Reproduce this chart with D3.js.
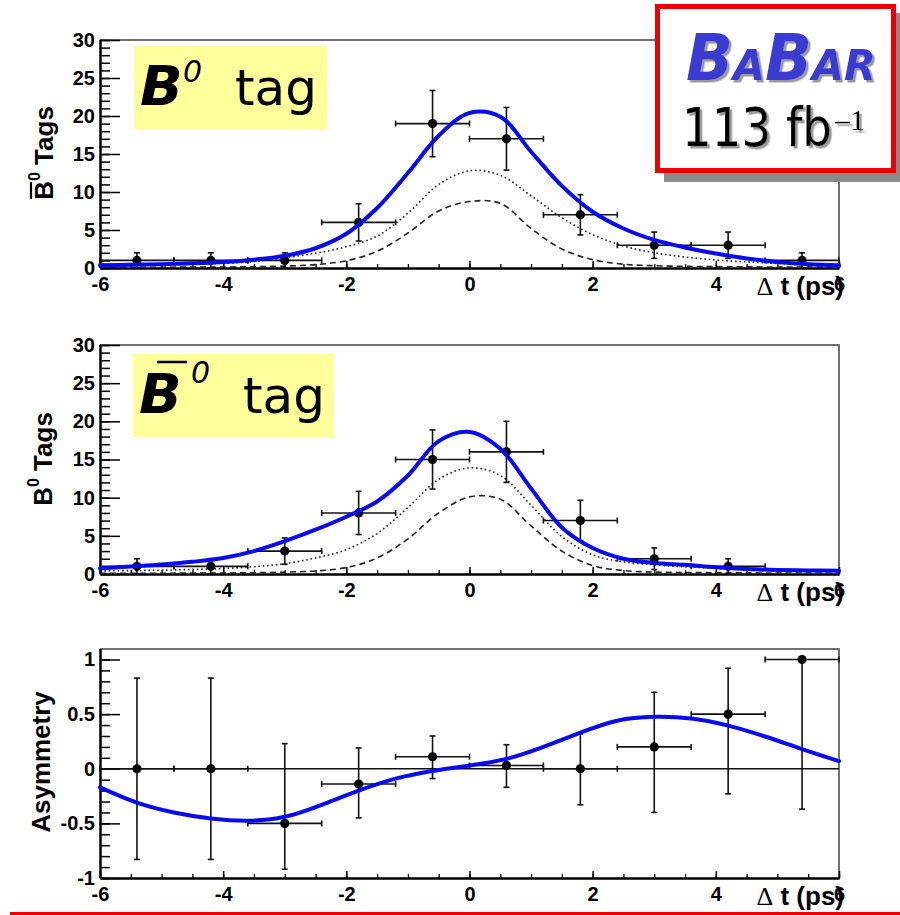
<!DOCTYPE html>
<html>
<head>
<meta charset="utf-8">
<script src="https://cdn.jsdelivr.net/npm/d3@7"></script>
<style>
  body { margin: 0; background: #fff; }
  svg { display: block; }
</style>
</head>
<body>
<script>
// ---- Δt binning (ps) ----
const binCenters = [-5.4, -4.2, -3.0, -1.8, -0.6, 0.6, 1.8, 3.0, 4.2, 5.4];
const binHalfWidth = 0.6;

// ---- B0-tagged events (upper panel, axis "B̄0 Tags") ----
const b0TagCounts = [1, 1, 1, 6, 19, 17, 7, 3, 3, 1];
const b0TagErrors = [1, 1, 1, 2.45, 4.36, 4.12, 2.65, 1.73, 1.73, 1];

// ---- B0bar-tagged events (middle panel, axis "B0 Tags") ----
const b0barTagCounts = [1, 1, 3, 8, 15, 16, 7, 2, 1, 0];
const b0barTagErrors = [1, 1, 1.73, 2.83, 3.87, 4, 2.65, 1.41, 1, 0];

// ---- raw asymmetry per bin ----
const asymValues = [0, 0, -0.5, -0.14, 0.11, 0.03, 0, 0.2, 0.5, 1.0];
const asymErrUp = [0.83, 0.83, 0.73, 0.33, 0.19, 0.19, 0.32, 0.5, 0.42, 0];
const asymErrDown = [0.83, 0.83, 0.42, 0.31, 0.2, 0.2, 0.33, 0.6, 0.73, 1.37];

// ---- fit projections sampled on a Δt grid ----
const fitT = [-6, -5.5, -5, -4.5, -4, -3.5, -3, -2.5, -2, -1.5, -1, -0.5, 0, 0.5, 1, 1.5, 2, 2.5, 3, 3.5, 4, 4.5, 5, 5.5, 6];
const b0FitTotal  = [0.35, 0.42, 0.5, 0.62, 0.8, 1.1, 1.6, 2.6, 4.5, 7.9, 12.5, 17.4, 20.4, 19.9, 15.3, 10.8, 7.4, 5.2, 3.7, 2.7, 1.9, 1.25, 0.8, 0.5, 0.35];
const b0FitDotted = [0.3, 0.35, 0.42, 0.5, 0.62, 0.85, 1.35, 1.95, 2.8, 4.2, 7.2, 11.0, 12.8, 12.2, 9.5, 6.6, 4.4, 2.9, 2.0, 1.45, 1.05, 0.8, 0.6, 0.45, 0.35];
const b0FitDashed = [0.1, 0.1, 0.1, 0.12, 0.13, 0.17, 0.25, 0.45, 0.95, 2.2, 4.6, 7.5, 8.75, 8.5, 5.2, 2.5, 1.1, 0.5, 0.3, 0.22, 0.18, 0.15, 0.13, 0.12, 0.1];
const b0barFitTotal  = [0.72, 0.98, 1.25, 1.6, 2.1, 3.0, 4.3, 5.8, 7.5, 9.5, 12.9, 17.4, 18.6, 16.4, 11.2, 6.1, 3.4, 2.0, 1.45, 1.2, 0.88, 0.65, 0.52, 0.46, 0.42];
const b0barFitDotted = [0.4, 0.45, 0.5, 0.6, 0.72, 0.95, 1.35, 2.1, 3.2, 5.3, 8.7, 12.4, 13.9, 12.9, 9.0, 4.9, 2.5, 1.6, 1.2, 0.95, 0.75, 0.6, 0.5, 0.45, 0.4];
const b0barFitDashed = [0.1, 0.1, 0.1, 0.12, 0.13, 0.17, 0.25, 0.4, 0.85, 2.1, 4.6, 8.0, 10.1, 9.8, 6.3, 3.0, 1.1, 0.45, 0.25, 0.2, 0.17, 0.15, 0.13, 0.12, 0.1];

const asymFitT = [-6, -5.4, -4.8, -4.2, -3.6, -3.0, -2.4, -1.8, -1.2, -0.6, 0, 0.6, 1.2, 1.8, 2.4, 3.0, 3.6, 4.2, 4.8, 5.4, 6];
const asymFit  = [-0.17, -0.31, -0.40, -0.455, -0.475, -0.44, -0.33, -0.2, -0.09, -0.02, 0.03, 0.09, 0.2, 0.33, 0.44, 0.475, 0.46, 0.395, 0.295, 0.18, 0.07];

// ---- axis ticks ----
const xTickValues = [-6, -4, -2, 0, 2, 4, 6];
const countTickValues = [0, 5, 10, 15, 20, 25, 30];
const asymTickValues = [-1, -0.5, 0, 0.5, 1];

const AXIS_FONT = "'Liberation Sans', Arial, Helvetica, sans-serif";
const HAND_FONT = "'DejaVu Sans', 'Noto Sans', sans-serif";

const svg = d3.select("body").append("svg")
  .attr("width", 900).attr("height", 915)
  .style("font-family", AXIS_FONT);

// soft grey drop shadow used by the experiment box lettering
const defs = svg.append("defs");
const shadow = defs.append("filter").attr("id", "txtShadow")
  .attr("x", "-10%").attr("y", "-10%").attr("width", "130%").attr("height", "130%");
shadow.append("feDropShadow").attr("dx", 2.5).attr("dy", 2.5).attr("stdDeviation", 0.4)
  .attr("flood-color", "#9a9a9a").attr("flood-opacity", 1);

const x = d3.scaleLinear().domain([-6, 6]).range([100, 839]);

function styleAxis(sel, sw) {
  sel.selectAll("path.domain").attr("stroke", "#000").attr("stroke-width", 2);
  sel.selectAll(".tick line").attr("stroke", "#000").attr("stroke-width", sw);
  sel.selectAll(".tick text")
    .attr("fill", "#000")
    .style("font-family", AXIS_FONT)
    .style("font-weight", "bold")
    .style("font-size", "20px");
}

function drawPanel(cfg) {
  const y = d3.scaleLinear().domain(cfg.yDomain).range(cfg.yRange);
  const g = svg.append("g");
  const yBottom = cfg.yRange[0];

  // frame (top and right edges)
  g.append("path")
    .attr("d", `M100,${cfg.frameTop}H839V${yBottom}`)
    .attr("fill", "none").attr("stroke", "#444").attr("stroke-width", 1.5);

  // x axis: minor then major ticks, pointing into the frame
  const xMinor = g.append("g").attr("transform", `translate(0,${yBottom})`)
    .call(d3.axisBottom(x).tickValues(d3.range(-6, 6.01, 0.5)).tickSize(-4).tickSizeOuter(0).tickFormat(""));
  styleAxis(xMinor, 1.3);
  const xMajor = g.append("g").attr("transform", `translate(0,${yBottom})`)
    .call(d3.axisBottom(x).tickValues(xTickValues).tickSize(-7).tickSizeOuter(0).tickPadding(9).tickFormat(d => String(d)));
  styleAxis(xMajor, 1.5);

  // y axis
  const yMinor = g.append("g").attr("transform", "translate(100,0)")
    .call(d3.axisLeft(y).tickValues(cfg.yMinor).tickSize(-10).tickSizeOuter(0).tickFormat(""));
  styleAxis(yMinor, 1.5);
  yMinor.select("path.domain").attr("d", `M0.5,${cfg.frameTop}V${yBottom}`);
  const yMajor = g.append("g").attr("transform", "translate(100,0)")
    .call(d3.axisLeft(y).tickValues(cfg.yTicks).tickSize(-20).tickSizeOuter(0).tickPadding(5).tickFormat(d => String(d)));
  styleAxis(yMajor, 1.5);
  yMajor.select("path.domain").attr("d", `M0.5,${cfg.frameTop}V${yBottom}`);

  // x axis title
  const xt = g.append("text")
    .attr("x", 844).attr("y", yBottom + 27)
    .attr("text-anchor", "end")
    .style("font-size", "26px").style("font-weight", "bold");
  xt.append("tspan").style("font-family", "'Liberation Serif', serif").style("font-weight", "normal").text("Δ");
  xt.append("tspan").text(" t (ps)");

  return { g, y };
}

function drawFit(p, tVals, vals, style) {
  const line = d3.line()
    .x((d, i) => x(tVals[i]))
    .y(d => p.y(d))
    .curve(style.curve || d3.curveCatmullRom.alpha(0.5));
  const path = p.g.append("path")
    .attr("d", line(vals))
    .attr("fill", "none")
    .attr("stroke", style.color)
    .attr("stroke-width", style.width)
    .attr("stroke-linecap", style.cap || "butt");
  if (style.dash) path.attr("stroke-dasharray", style.dash);
}

function drawPoints(p, values, errUp, errDown) {
  const cap = 3;
  const grp = p.g.append("g").attr("stroke", "#111").attr("stroke-width", 1.6);
  values.forEach((v, i) => {
    if (v === 0 && errUp[i] === 0 && errDown[i] === 0) return; // empty bin
    const cx = x(binCenters[i]);
    const x0 = x(binCenters[i] - binHalfWidth), x1 = x(binCenters[i] + binHalfWidth);
    const cy = p.y(v);
    const yTop = p.y(v + errUp[i]), yBot = p.y(v - errDown[i]);
    grp.append("line").attr("x1", x0).attr("x2", x1).attr("y1", cy).attr("y2", cy);
    grp.append("line").attr("x1", x0).attr("x2", x0).attr("y1", cy - cap).attr("y2", cy + cap);
    grp.append("line").attr("x1", x1).attr("x2", x1).attr("y1", cy - cap).attr("y2", cy + cap);
    grp.append("line").attr("x1", cx).attr("x2", cx).attr("y1", yTop).attr("y2", yBot);
    if (errUp[i] > 0) grp.append("line").attr("x1", cx - cap).attr("x2", cx + cap).attr("y1", yTop).attr("y2", yTop);
    if (errDown[i] > 0) grp.append("line").attr("x1", cx - cap).attr("x2", cx + cap).attr("y1", yBot).attr("y2", yBot);
    p.g.append("circle").attr("cx", cx).attr("cy", cy).attr("r", 4.6).attr("fill", "#000");
  });
}

function yTitle(parts, cx, cy, bar) {
  const g = svg.append("g").attr("transform", `translate(${cx},${cy}) rotate(-90)`);
  const t = g.append("text").attr("x", 0).attr("y", 0)
    .style("font-weight", "bold").style("font-size", "26px");
  parts.forEach(pt => {
    const s = t.append("tspan").text(pt.text);
    if (pt.sup) s.style("font-size", "16px").attr("dy", -13);
    if (pt.back) s.attr("dy", 13);
  });
  const len = t.node().getComputedTextLength();
  t.attr("x", -len / 2);
  if (bar) {
    const bw = t.node().getSubStringLength(0, 1);
    g.append("line").attr("x1", -len / 2 + 1).attr("x2", -len / 2 + bw - 1)
      .attr("y1", -22).attr("y2", -22).attr("stroke", "#000").attr("stroke-width", 2.2);
  }
}

// ---------- panel 1 : B0 tag ----------
const p1 = drawPanel({ yDomain: [0, 30], yRange: [268, 40], frameTop: 40,
  yTicks: countTickValues, yMinor: d3.range(0, 31, 1) });
drawFit(p1, fitT, b0FitDashed, { color: "#222", width: 1.6, dash: "6,4" });
drawFit(p1, fitT, b0FitDotted, { color: "#222", width: 1.6, dash: "1.6,2.8" });
drawPoints(p1, b0TagCounts, b0TagErrors, b0TagErrors);
drawFit(p1, fitT, b0FitTotal, { color: "#0a0af0", width: 4, cap: "round" });
yTitle([{ text: "B" }, { text: "0", sup: true }, { text: " Tags", back: true }], 53, 153, true);

// ---------- panel 2 : B0bar tag ----------
const p2 = drawPanel({ yDomain: [0, 30], yRange: [574, 345], frameTop: 345,
  yTicks: countTickValues, yMinor: d3.range(0, 31, 1) });
drawFit(p2, fitT, b0barFitDashed, { color: "#222", width: 1.6, dash: "6,4" });
drawFit(p2, fitT, b0barFitDotted, { color: "#222", width: 1.6, dash: "1.6,2.8" });
drawPoints(p2, b0barTagCounts, b0barTagErrors, b0barTagErrors);
drawFit(p2, fitT, b0barFitTotal, { color: "#0a0af0", width: 4, cap: "round" });
yTitle([{ text: "B" }, { text: "0", sup: true }, { text: " Tags", back: true }], 52, 459, false);

// ---------- panel 3 : asymmetry ----------
const p3 = drawPanel({ yDomain: [-1, 1], yRange: [878, 659.5], frameTop: 649,
  yTicks: asymTickValues, yMinor: d3.range(-1, 1.0001, 0.1) });
p3.g.append("line").attr("x1", 100).attr("x2", 839)
  .attr("y1", p3.y(0)).attr("y2", p3.y(0)).attr("stroke", "#111").attr("stroke-width", 1.6);
drawPoints(p3, asymValues, asymErrUp, asymErrDown);
drawFit(p3, asymFitT, asymFit, { color: "#0a0af0", width: 4, cap: "round", curve: d3.curveNatural });
yTitle([{ text: "Asymmetry" }], 50, 762, false);

// ---------- tag labels ----------
function tagLabel(box, barred) {
  svg.append("rect").attr("x", box.x).attr("y", box.y).attr("width", box.w).attr("height", box.h)
    .attr("fill", "#ffff9c");
  const base = box.y + box.h - 24;
  svg.append("text").attr("x", box.x + 6).attr("y", base)
    .style("font-family", HAND_FONT).style("font-style", "italic").style("font-weight", "bold")
    .style("font-size", "56px").attr("fill", "#000").text("B");
  if (barred) {
    svg.append("line").attr("x1", box.x + 24).attr("x2", box.x + 54)
      .attr("y1", box.y + 8).attr("y2", box.y + 8).attr("stroke", "#000").attr("stroke-width", 2.5);
  }
  svg.append("text").attr("x", box.x + (barred ? 58 : 49)).attr("y", box.y + (barred ? 29 : 36))
    .style("font-family", HAND_FONT).style("font-style", "italic")
    .style("font-size", "30px").attr("fill", "#000").text("0");
  svg.append("text").attr("x", box.x + (barred ? 110 : 101)).attr("y", base)
    .style("font-family", HAND_FONT).style("font-size", "50px").attr("fill", "#000").text("tag");
}
tagLabel({ x: 134, y: 46, w: 193, h: 83 }, false);
tagLabel({ x: 133, y: 354, w: 201, h: 83 }, true);

// ---------- experiment box ----------
svg.append("rect").attr("x", 664).attr("y", 13).attr("width", 240).attr("height", 169).attr("fill", "#8a8a8a");
svg.append("rect").attr("x", 657.5).attr("y", 6.5).attr("width", 236).attr("height", 164)
  .attr("fill", "#fff").attr("stroke", "#ee0000").attr("stroke-width", 5);

const bb = svg.append("text").attr("x", 686).attr("y", 80)
  .attr("textLength", 190).attr("lengthAdjust", "spacingAndGlyphs")
  .attr("filter", "url(#txtShadow)")
  .style("font-family", HAND_FONT).style("font-style", "italic").style("font-weight", "bold")
  .attr("fill", "#3a3ad2");
[["B", 64], ["A", 43], ["B", 64], ["A", 43], ["R", 43]].forEach(([c, s]) => {
  bb.append("tspan").style("font-size", s + "px").text(c);
});

svg.append("text").attr("x", 682).attr("y", 146)
  .attr("textLength", 150).attr("lengthAdjust", "spacingAndGlyphs")
  .attr("filter", "url(#txtShadow)").attr("fill", "#000")
  .style("font-family", HAND_FONT).style("font-size", "54px").text("113 fb");
svg.append("text").attr("x", 835).attr("y", 130)
  .attr("filter", "url(#txtShadow)").attr("fill", "#000")
  .style("font-family", "'Liberation Serif', serif").style("font-size", "30px").text("–1");

// ---------- bottom rule ----------
svg.append("rect").attr("x", 10).attr("y", 912).attr("width", 890).attr("height", 3).attr("fill", "#ee0000");
</script>
</body>
</html>
